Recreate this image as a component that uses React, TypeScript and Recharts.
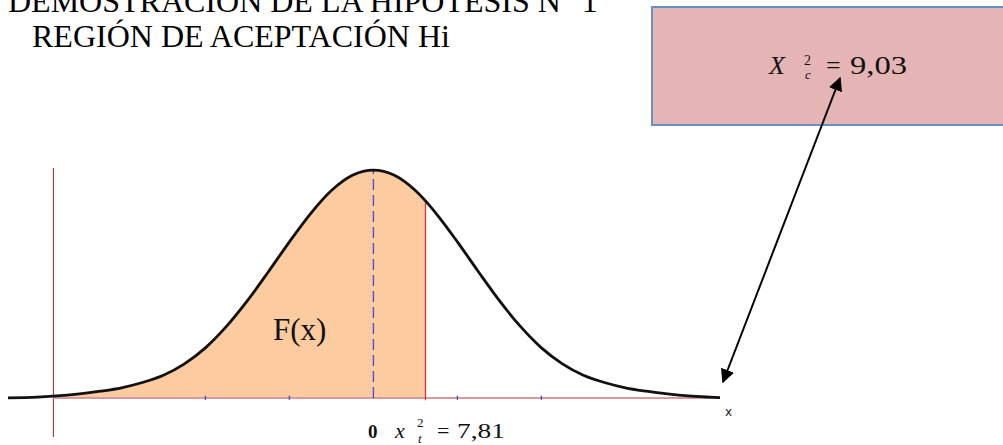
import { ComposedChart, Area, Line, XAxis, YAxis, ReferenceLine } from "recharts";

// z positions (in tick units) and curve heights (peak = 1)
const zValues = [
  -4.35, -4.0, -3.81, -3.5, -3.25, -3.0, -2.75, -2.5, -2.25, -2.0, -1.75, -1.5, -1.25, -1.0, -0.75, -0.5,
  -0.25, 0, 0.25, 0.5, 0.62, 0.75, 1.0, 1.25, 1.5, 1.75, 2.0, 2.25, 2.5, 2.75, 3.0, 3.25, 3.5, 3.75, 4.0,
  4.13,
];
const heights = [
  0.001, 0.004, 0.008, 0.018, 0.03, 0.045, 0.068, 0.1, 0.15, 0.22, 0.314, 0.427, 0.554, 0.685, 0.808,
  0.91, 0.977, 1.0, 0.977, 0.91, 0.865, 0.808, 0.685, 0.554, 0.427, 0.314, 0.22, 0.15, 0.1, 0.068,
  0.045, 0.03, 0.018, 0.009, 0.004, 0.002,
];
const criticalValue = 0.62; // x_t^2 = 7,81
const leftBound = -3.81;
const tickPositions = [-2, -1, 1, 2];
const calcLabel = "9,03";
const tableLabel = "7,81";

const data = zValues.map((z, i) => ({
  z,
  curve: heights[i],
  shaded: z >= leftBound && z <= criticalValue ? heights[i] : null,
}));

const critHeight = heights[zValues.indexOf(criticalValue)];
const serif = "Liberation Serif, Times New Roman, serif";

export default function App() {
  return (
    <div style={{ position: "absolute", top: 0, left: 0, width: 1003, height: 445, background: "#fff", overflow: "hidden" }}>
      <ComposedChart
        width={1003}
        height={445}
        data={data}
        margin={{ top: 168, right: 283, bottom: 8, left: 8 }}
        style={{ position: "absolute", top: 0, left: 0 }}
      >
        <XAxis type="number" dataKey="z" domain={[-4.35, 4.126]} hide allowDataOverflow />
        <YAxis type="number" domain={[-0.171, 1.009]} hide allowDataOverflow />
        <ReferenceLine x={leftBound} stroke="#8b2a2a" strokeWidth={1} />
        <Area
          dataKey="shaded"
          type="monotone"
          stroke="none"
          fill="#fccba0"
          fillOpacity={1}
          connectNulls={false}
          isAnimationActive={false}
        />
        <ReferenceLine
          segment={[{ x: leftBound, y: 0 }, { x: 4.126, y: 0 }]}
          stroke="#d89a9a"
          strokeWidth={2}
        />
        {tickPositions.map((t) => (
          <ReferenceLine
            key={t}
            segment={[{ x: t, y: -0.008 }, { x: t, y: 0.01 }]}
            stroke="#4a50c8"
            strokeWidth={1.5}
          />
        ))}
        <ReferenceLine
          segment={[{ x: 0, y: 0 }, { x: 0, y: 1 }]}
          stroke="#4f46d0"
          strokeWidth={1.3}
          strokeDasharray="11 5"
        />
        <ReferenceLine
          segment={[{ x: criticalValue, y: -0.01 }, { x: criticalValue, y: critHeight }]}
          stroke="#e03434"
          strokeWidth={1.3}
        />
        <Line
          dataKey="curve"
          type="monotone"
          stroke="#111"
          strokeWidth={2.8}
          dot={false}
          isAnimationActive={false}
        />
      </ComposedChart>

      <svg width={1003} height={445} style={{ position: "absolute", top: 0, left: 0, pointerEvents: "none", fontFamily: serif }}>
        <defs>
          <marker id="head" viewBox="0 0 10 10" refX="9" refY="5" markerWidth="7" markerHeight="7" orient="auto-start-reverse">
            <path d="M0,0 L10,5 L0,10 z" fill="#000" />
          </marker>
        </defs>
        <text x={8} y={12} fontSize={32} fill="#000">
          DEMOSTRACIÓN DE LA HIPÓTESIS N° 1
        </text>
        <text x={32} y={47} fontSize={32} fill="#000">
          REGIÓN DE ACEPTACIÓN Hi
        </text>

        <rect x={652} y={7} width={370} height={118} fill="#e5b5b5" stroke="#6690cc" strokeWidth={2} />
        <text x={769} y={74} fontSize={26} fill="#111" fontStyle="italic">X</text>
        <text x={804} y={65} fontSize={14} fill="#111">2</text>
        <text x={805} y={79} fontSize={13} fill="#111" fontStyle="italic">c</text>
        <text x={826} y={74} fontSize={26} fill="#111">=</text>
        <text x={850} y={74} fontSize={26} fill="#111" textLength={57} lengthAdjust="spacingAndGlyphs">{calcLabel}</text>

        <line x1={840} y1={78} x2={723} y2={382} stroke="#000" strokeWidth={2} markerStart="url(#head)" markerEnd="url(#head)" />

        <text x={273} y={340} fontSize={31} fill="#111">F(x)</text>
        <text x={368} y={438} fontSize={19} fontWeight="bold" fill="#111">0</text>
        <text x={395} y={438} fontSize={22} fill="#111" fontStyle="italic">x</text>
        <text x={417} y={427} fontSize={13} fill="#111">2</text>
        <text x={418} y={443} fontSize={13} fill="#111" fontStyle="italic">t</text>
        <text x={437} y={438} fontSize={22} fill="#111">=</text>
        <text x={457} y={438} fontSize={22} fill="#111" textLength={48} lengthAdjust="spacingAndGlyphs">{tableLabel}</text>
        <text x={725} y={416} fontFamily="DejaVu Sans, sans-serif" fontSize={12} fill="#222">x</text>
      </svg>
    </div>
  );
}
